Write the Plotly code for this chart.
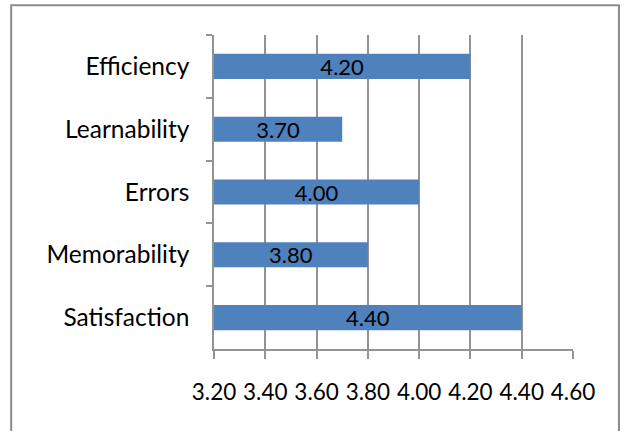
import plotly.graph_objects as go

categories = ["Efficiency", "Learnability", "Errors", "Memorability", "Satisfaction"]
values = [4.20, 3.70, 4.00, 3.80, 4.40]
x_min = 3.20
tick_vals = [3.20, 3.40, 3.60, 3.80, 4.00, 4.20, 4.40, 4.60]
tick_text = ["3.20", "3.40", "3.60", "3.80", "4.00", "4.20", "4.40", "4.60"]

FONT = "Lato"

fig = go.Figure(go.Bar(
    y=categories,
    x=[v - x_min for v in values],
    base=[x_min] * len(values),
    orientation="h",
    width=0.4,
    marker=dict(color="#4F81BD", line=dict(width=0)),
    text=[f"{v:.2f}" for v in values],
    textposition="inside",
    insidetextanchor="middle",
    constraintext="none",
    textfont=dict(family=FONT, size=22, color="black"),
    cliponaxis=False,
))

fig.update_layout(
    width=627, height=431,
    margin=dict(l=214, r=54, t=35, b=82, autoexpand=False),
    paper_bgcolor="white", plot_bgcolor="white",
    showlegend=False,
    font=dict(family=FONT, size=22, color="black"),
    shapes=[dict(type="rect", xref="paper", yref="paper",
                 x0=-0.565, x1=1.128, y0=-0.27, y1=1.095,
                 line=dict(color="#8c8c8c", width=2), fillcolor="rgba(0,0,0,0)",
                 layer="below")],
)

fig.update_xaxes(
    range=[3.2, 4.6], tickvals=tick_vals, ticktext=tick_text,
    showgrid=True, gridcolor="#939393", gridwidth=1.5,
    showline=True, linecolor="#939393", linewidth=1.5,
    ticks="outside", ticklen=8, tickcolor="#939393", tickwidth=1.5,
    ticklabelstandoff=14, zeroline=False, automargin=False,
    tickfont=dict(size=22.5),
)
fig.update_yaxes(
    autorange="reversed", type="category",
    showgrid=False, showline=True, linecolor="#939393", linewidth=1.5,
    ticks="outside", ticklen=6, tickcolor="#939393", tickwidth=1.5,
    tickson="boundaries", ticklabelstandoff=18, automargin=False,
    tickfont=dict(size=24.5),
)

fig.write_html("out.html",
               config={"displayModeBar": False},
               post_script="document.body.style.margin='0';document.body.style.overflow='hidden';")
